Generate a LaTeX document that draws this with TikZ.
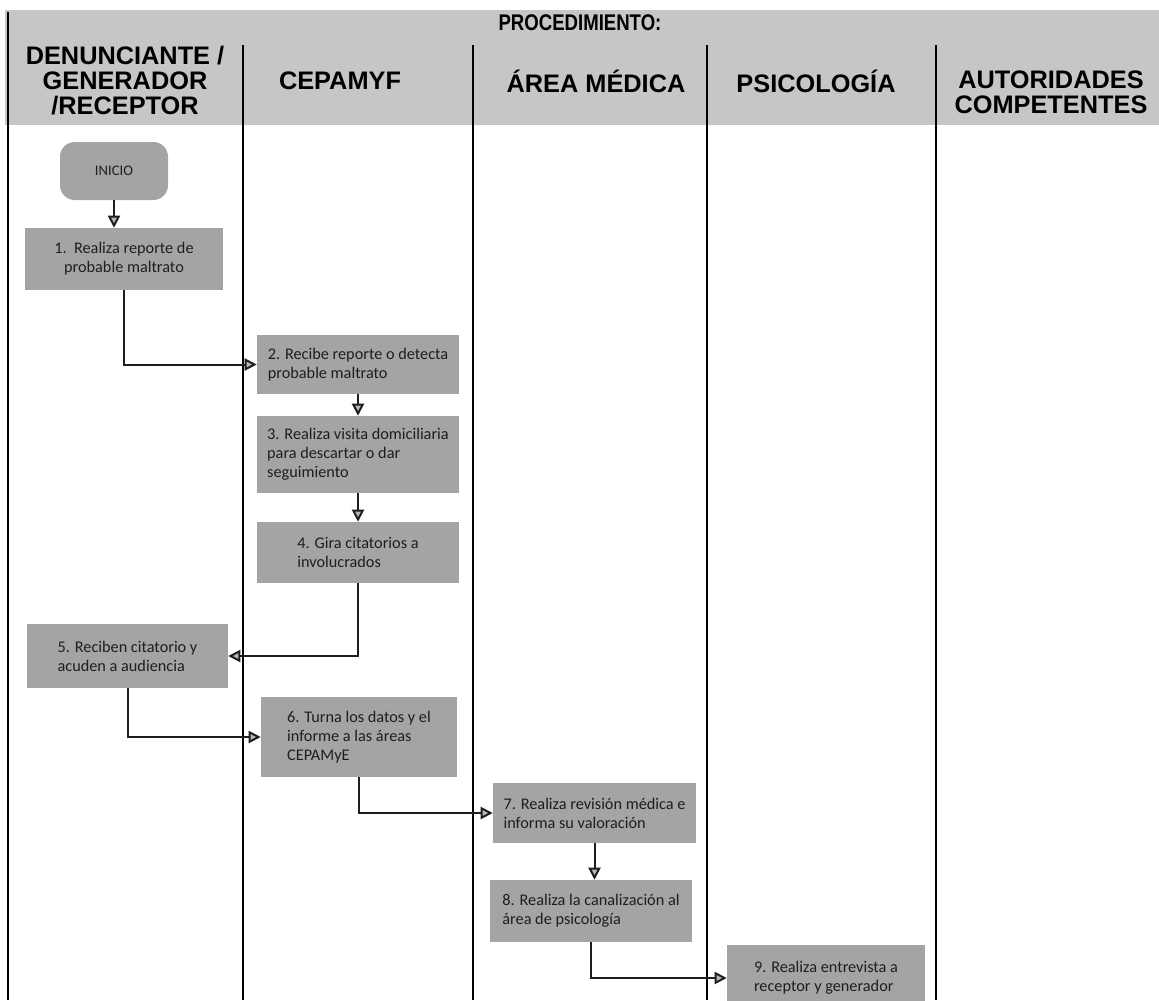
\documentclass[tikz,border=0pt]{standalone}
\usepackage{fontspec}
\usepackage{graphicx}
\setmainfont{Carlito}
\newfontfamily\headfont{Liberation Sans}
\usetikzlibrary{arrows.meta}
\definecolor{bandgray}{HTML}{C6C6C6}
\definecolor{boxgray}{HTML}{A4A4A4}
\definecolor{inkgray}{HTML}{1E1E1E}

\begin{document}
\begin{tikzpicture}[x=0.75pt,y=-0.75pt,
  lane/.style={line width=2pt, draw=black},
  stepbox/.style={rectangle, fill=boxgray, inner sep=0pt, align=left,
    font=\fontsize{12.2}{14.25}\selectfont, text=inkgray},
  startbox/.style={rectangle, rounded corners=11pt, fill=boxgray, inner sep=0pt,
    font=\fontsize{11}{12}\selectfont, text=inkgray,
    minimum width=81pt, minimum height=43.5pt},
  flow/.style={line width=1.5pt, draw=inkgray,
    -{Triangle[length=9pt,width=9pt,fill=gray!55]}},
  lanehead/.style={font=\headfont\bfseries\fontsize{19}{18.75}\selectfont,
    align=center, inner sep=0pt}
]
\useasboundingbox (0,0) rectangle (1159,1000);

% header band
\fill[bandgray] (5,10) rectangle (1159,125);

% swimlane separators
\draw[lane] (8,12) -- (8,1000);
\draw[lane] (243,45) -- (243,1000);
\draw[lane] (473,45) -- (473,1000);
\draw[lane] (707,45) -- (707,1000);
\draw[lane] (936,45) -- (936,1000);

% titles
\node[lanehead] (titulo) at (580,23)
  {\scalebox{0.82}[1]{\fontsize{17}{17}\selectfont PROCEDIMIENTO:}};
\node[lanehead] (h1) at (125,81) {DENUNCIANTE /\\GENERADOR\\/RECEPTOR};
\node[lanehead] (h2) at (340,81) {CEPAMYF};
\node[lanehead] (h3) at (596,81) {ÁREA MÉDICA};
\node[lanehead] (h4) at (816,81) {PSICOLOGÍA};
\node[lanehead] (h5) at (1051,92) {AUTORIDADES\\COMPETENTES};

% process steps
\node[startbox] (inicio) at (114,171) {INICIO};
\node[stepbox, align=center, minimum width=148.5pt, minimum height=46.5pt] (b1) at (124,259)
  {1.\ \ Realiza reporte de\\probable maltrato};
\node[stepbox, minimum width=151.5pt, minimum height=44.25pt] (b2) at (358,364.5)
  {2. Recibe reporte o detecta\\probable maltrato};
\node[stepbox, minimum width=151.5pt, minimum height=57.75pt] (b3) at (358,454.5)
  {3. Realiza visita domiciliaria\\para descartar o dar\\seguimiento};
\node[stepbox, minimum width=151.5pt, minimum height=45.75pt] (b4) at (358,552.5)
  {4. Gira citatorios a\\involucrados};
\node[stepbox, minimum width=150.75pt, minimum height=48pt] (b5) at (127.5,656)
  {5. Reciben citatorio y\\acuden a audiencia};
\node[stepbox, minimum width=147pt, minimum height=60pt] (b6) at (359,737)
  {6. Turna los datos y el\\informe a las áreas\\CEPAMyE};
\node[stepbox, minimum width=152.25pt, minimum height=45pt] (b7) at (594.5,813)
  {7. Realiza revisión médica e\\informa su valoración};
\node[stepbox, minimum width=151.5pt, minimum height=46.5pt] (b8) at (591,911)
  {8. Realiza la canalización al\\área de psicología};
\node[stepbox, minimum width=148.5pt, minimum height=49.5pt] (b9) at (826,978)
  {9. Realiza entrevista a\\receptor y generador};

% connectors
\draw[flow] (inicio.south) -- (inicio.south |- b1.north);
\draw[flow] (b1.south) |- (b2.west);
\draw[flow] (b2.south) -- (b3.north);
\draw[flow] (b3.south) -- (b4.north);
\draw[flow] (b4.south) |- (b5.east);
\draw[flow] (b5.south) |- (b6.west);
\draw[flow] (b6.south) |- (b7.west);
\draw[flow] (b7.south) -- (b7.south |- b8.north);
\draw[flow] (b8.south) |- (b9.west);
\end{tikzpicture}
\end{document}
